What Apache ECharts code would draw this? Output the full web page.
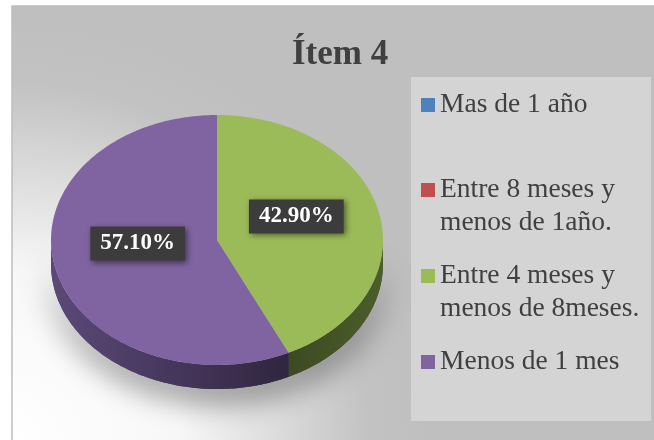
<!DOCTYPE html>
<html>
<head>
<meta charset="utf-8">
<script src="https://cdn.jsdelivr.net/npm/echarts@6/dist/echarts.min.js"></script>
<style>
  html, body { margin: 0; padding: 0; background: #ffffff; }
  #chart { width: 654px; height: 440px; }
</style>
</head>
<body>
<div id="chart"></div>
<script>
// Chart data
const categories = ['Mas de 1 año', 'Entre 8 meses y menos de 1año.', 'Entre 4 meses y menos de 8meses.', 'Menos de 1 mes'];
const legendLines = [['Mas de 1 año'], ['Entre 8 meses y', 'menos de 1año.'], ['Entre 4 meses y', 'menos de 8meses.'], ['Menos de 1 mes']];
const values = [0, 0, 42.9, 57.1];
const labels = ['0.00%', '0.00%', '42.90%', '57.10%'];
const colors = ['#4F81BD', '#C0504D', '#9BBB59', '#8064A2'];
const sideColors = [['#2f4d71', '#3a5f8a'], ['#73302e', '#8a3a38'], ['#3c4a22', '#4b5e2b'], ['#5b4979', '#30263f']];
const legendTops = [88.5, 140.5, 226.5, 345.5];

// Pie geometry (ellipse for the tilted view)
const cx = 217, cy = 240, rx = 166, ry = 125, depth = 24;
const total = values.reduce((a, b) => a + b, 0);

function pt (deg, dy) {
    const r = deg * Math.PI / 180;
    return [cx + rx * Math.sin(r), cy - ry * Math.cos(r) + (dy || 0)];
}

function arc (a1, a2, dy) {
    let pts = [];
    const steps = Math.max(2, Math.ceil(Math.abs(a2 - a1)));
    for (let i = 0; i <= steps; i++) {
        pts.push(pt(a1 + (a2 - a1) * i / steps, dy));
    }
    return pts;
}

function renderSlice (params, api) {
    const idx = params.seriesIndex;
    const value = api.value(0);
    if (!value) return null;
    let start = 0;
    for (let i = 0; i < idx; i++) start += values[i];
    const a1 = start / total * 360;
    const a2 = (start + value) / total * 360;
    let children = [];

    // Visible side wall is the front half (90..270 degrees)
    const s = Math.max(a1, 90), e = Math.min(a2, 270);
    if (e > s) {
        const side = arc(s, e, 0).concat(arc(e, s, depth));
        const fill = new echarts.graphic.LinearGradient(0, 0, 1, 0, [
            { offset: 0, color: sideColors[idx][0] },
            { offset: 1, color: sideColors[idx][1] }
        ]);
        // soft shadow under the pie
        children.push({
            type: 'polygon', z2: 0, shape: { points: side },
            style: { fill: fill, shadowBlur: 30, shadowColor: 'rgba(0,0,0,0.45)', shadowOffsetY: 12 }
        });
        children.push({
            type: 'polygon', z2: 1, shape: { points: side },
            style: { fill: fill }
        });
    }

    // Top face
    children.push({
        type: 'polygon', z2: 2,
        shape: { points: [[cx, cy]].concat(arc(a1, a2, 0)) },
        style: { fill: colors[idx] }
    });

    // Data label
    const mid = (a1 + a2) / 2 * Math.PI / 180;
    children.push({
        type: 'text', z2: 3,
        x: cx + rx * 0.49 * Math.sin(mid),
        y: cy - ry * 0.49 * Math.cos(mid) - 10,
        style: {
            text: labels[idx],
            fill: '#ffffff',
            font: 'bold 23px "Liberation Serif"',
            align: 'center',
            verticalAlign: 'middle',
            backgroundColor: '#3c3c3c',
            padding: [6, 10, 5, 10],
            shadowBlur: 6,
            shadowColor: 'rgba(0,0,0,0.5)',
            shadowOffsetX: 2,
            shadowOffsetY: 2
        }
    });
    return { type: 'group', children: children };
}

const chart = echarts.init(document.getElementById('chart'));

let option = {
    animation: false,
    color: colors,
    title: {
        text: 'Ítem 4',
        left: 287,
        top: 32,
        textStyle: { fontFamily: 'Liberation Serif', fontWeight: 'bold', fontSize: 35, color: '#404040' }
    },
    graphic: [
        {
            type: 'rect', z: -10,
            shape: { x: 12, y: 6, width: 660, height: 450 },
            style: {
                fill: {
                    type: 'radial', x: 12, y: 440, r: 420, global: true,
                    colorStops: [
                        { offset: 0, color: '#ffffff' },
                        { offset: 0.4, color: '#f7f7f7' },
                        { offset: 0.85, color: '#c2c2c2' },
                        { offset: 1, color: '#bfbfbf' }
                    ]
                },
                stroke: '#bdbdbd', lineWidth: 1.5
            }
        },
        {
            type: 'rect', z: -9,
            shape: { x: 411, y: 77, width: 240, height: 344 },
            style: { fill: '#d4d4d4' }
        }
    ],
    legend: categories.map((name, i) => ({
        data: [name],
        left: 421,
        top: legendTops[i],
        padding: 0,
        icon: 'rect',
        itemWidth: 14,
        itemHeight: 14,
        selectedMode: false,
        formatter: function () {
            const lines = legendLines[i];
            return lines.length > 1 ? '\n' + lines.join('\n') : lines[0];
        },
        textStyle: { fontFamily: 'Liberation Serif', fontSize: 27.5, color: '#404040', lineHeight: 33 }
    })),
    series: categories.map((name, i) => ({
        type: 'custom',
        name: name,
        coordinateSystem: 'none',
        renderItem: renderSlice,
        itemStyle: { color: colors[i] },
        data: [[values[i]]]
    }))
};
chart.setOption(option);
</script>
</body>
</html>
